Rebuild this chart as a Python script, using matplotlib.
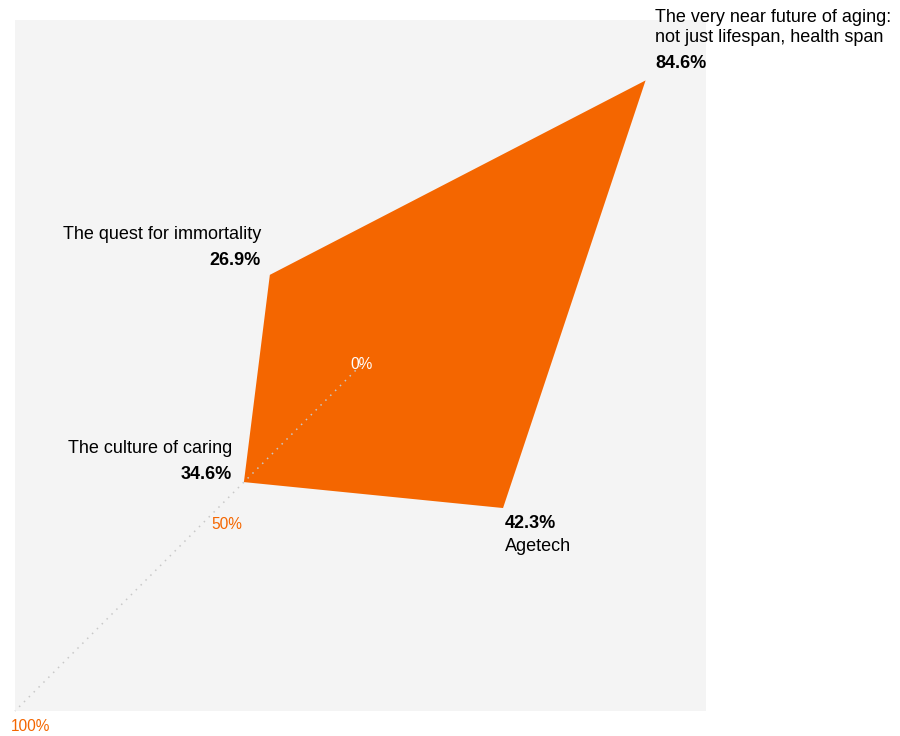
import numpy as np
from matplotlib import pyplot as plt

plt.rcParams['font.family'] = ['Liberation Sans', 'DejaVu Sans']

categories = ['The very near future of aging:\nnot just lifespan, health span',
              'The quest for immortality',
              'The culture of caring',
              'Agetech']
values = [84.6, 26.9, 34.6, 42.3]
angles = [45, 135, 225, 315]  # degrees, axis directions
scale_labels = ['0%', '50%', '100%']

orange = '#f46600'

fig = plt.figure(figsize=(9, 7.36), dpi=100)
ax = fig.add_axes([15 / 900, 25 / 736, 691 / 900, 691 / 736])
ax.set_facecolor('#f4f4f4')
lim = 72.5  # 100% lands a bit inside the corner
ax.set_xlim(-lim, lim)
ax.set_ylim(-lim, lim)
for s in ax.spines.values():
    s.set_visible(False)
ax.set_xticks([])
ax.set_yticks([])

th = np.radians(angles)
r = np.array(values)
x = r * np.cos(th)
y = r * np.sin(th)
ax.fill(x, y, color=orange, lw=0, zorder=2)

# dotted scale axis from centre to lower-left corner
ax.plot([0.5, 0], [0.5, 0], transform=ax.transAxes,
        ls=(0, (1, 3.5)), color='#c8c8c8', lw=1.1, zorder=3, clip_on=False)

# scale labels
ax.annotate(scale_labels[0], (0, 0), xytext=(0.5, 1), textcoords='offset points',
            color='white', fontsize=11.2, ha='center', va='center')
p50 = 50 * np.cos(np.radians(225))
ax.annotate(scale_labels[1], (p50, p50), xytext=(25, 7), textcoords='offset points',
            color=orange, fontsize=11.2, ha='center', va='center')
ax.annotate(scale_labels[2], (0, 0), xycoords='axes fraction', xytext=(11, -11.5),
            textcoords='offset points', color=orange, fontsize=11.2,
            ha='center', va='center', annotation_clip=False)

# category labels
fs = 13
# future (upper right)
ax.annotate(categories[0], (x[0], y[0]), xytext=(7, 38), textcoords='offset points',
            ha='left', va='center', fontsize=fs, linespacing=1.2, annotation_clip=False)
ax.annotate(f'{values[0]}%', (x[0], y[0]), xytext=(7, 12.5), textcoords='offset points',
            ha='left', va='center', fontsize=fs, fontweight='bold', annotation_clip=False)
# quest (upper left)
ax.annotate(categories[1], (x[1], y[1]), xytext=(-6.3, 29.3), textcoords='offset points',
            ha='right', va='center', fontsize=fs)
ax.annotate(f'{values[1]}%', (x[1], y[1]), xytext=(-6.3, 10.6), textcoords='offset points',
            ha='right', va='center', fontsize=fs, fontweight='bold')
# culture (lower left)
ax.annotate(categories[2], (x[2], y[2]), xytext=(-8.4, 24.5), textcoords='offset points',
            ha='right', va='center', fontsize=fs)
ax.annotate(f'{values[2]}%', (x[2], y[2]), xytext=(-8.4, 5.8), textcoords='offset points',
            ha='right', va='center', fontsize=fs, fontweight='bold')
# agetech (lower right)
ax.annotate(f'{values[3]}%', (x[3], y[3]), xytext=(1.5, -10.8), textcoords='offset points',
            ha='left', va='center', fontsize=fs, fontweight='bold')
ax.annotate(categories[3], (x[3], y[3]), xytext=(1.5, -27.4), textcoords='offset points',
            ha='left', va='center', fontsize=fs)

fig.savefig('out.png', dpi=100)
